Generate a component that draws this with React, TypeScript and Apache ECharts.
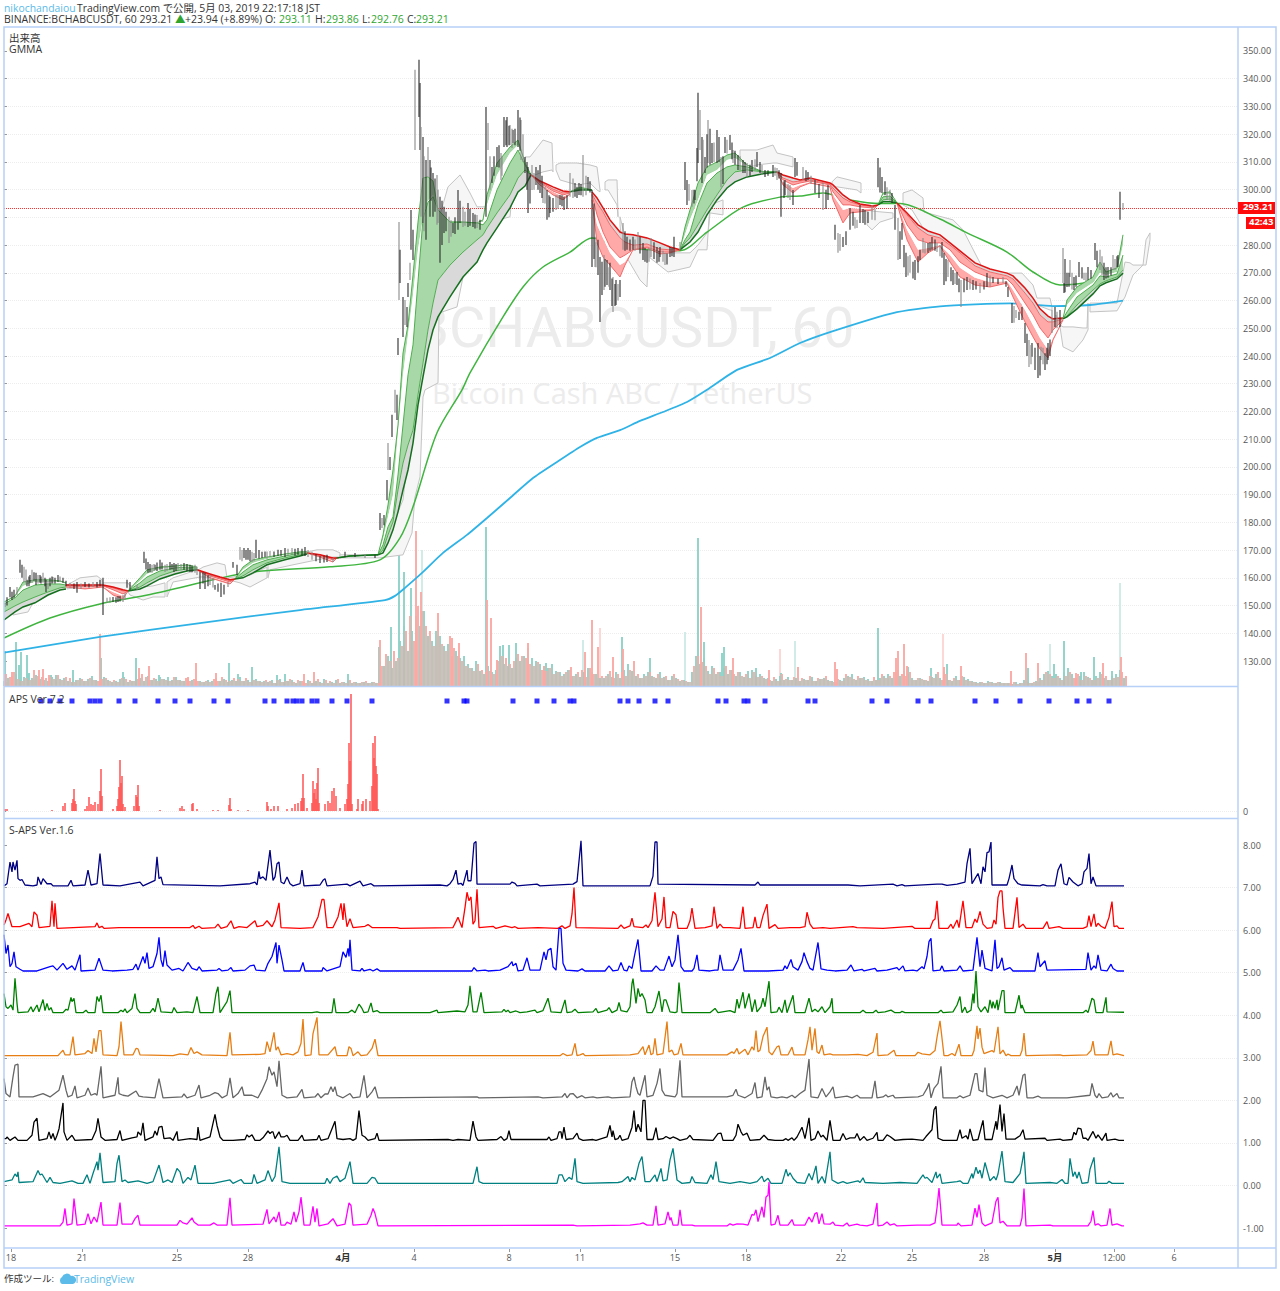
import { useEffect, useRef } from "react";
import * as echarts from "echarts";

type Row = number[];

const FONT = '"Open Sans", "Noto Sans CJK JP", sans-serif';
const BORDER = "#b7d0f7";

echarts.graphic.registerShape(
  "tvCloud",
  echarts.graphic.extendPath("M4 11a4 4 0 0 1 0-7 5 5 0 0 1 9-1 4 4 0 0 1 2 8z", {})
);

// x on every pane is the hourly bar index, labels sit on these bars
const timeTicks: [number, string][] = [
  [7, "18"], [78, "21"], [173, "25"], [244, "28"], [339, "4月"], [410, "4"], [505, "8"], [576, "11"],
  [671, "15"], [742, "18"], [837, "22"], [908, "25"], [980, "28"], [1051, "5月"], [1110, "12:00"], [1170, "6"],
];
const lastPrice = 293.21;

// bar, low, high
const candles: Row[] = [
  [1,149.5,151],[6,153,156.7],[10,152.8,155.7],[13,153.8,156.7],[16,161.8,166.5],[18,160,164.7],[20,158.5,164],[23,157,159.3],
  [26,158.2,161],[28,158.2,162.9],[32,157.4,161.8],[36,158.2,161],[39,158.2,161.8],[42,154.9,159.3],[46,157,160],[49,158.2,160.3],
  [54,158.5,161],[59,158.2,160],[66,156.4,158.2],[73,154.6,158.5],[81,156.7,158.5],[89,156.7,158.5],[96,157,159.3],[99,146.6,160],
  [103,151,152.8],[109,151.3,153.1],[114,151.3,153.5],[119,151.3,153.8],[123,156.4,159.3],[126,155.7,158.5],[133,155.7,157.4],
  [140,165.4,169.4],[144,161.8,165.7],[148,161.8,164.7],[151,162.9,164.7],[156,162.9,166.5],[161,162.1,164.7],[166,162.9,165.7],
  [170,162.1,165.4],[174,162.9,165.4],[180,162.9,165.4],[186,162.1,164.7],[191,161.8,164.7],[196,156,162.1],[201,156,161.8],
  [206,157.4,161],[211,155.7,157.4],[217,153.1,158.2],[224,156.7,158.5],[229,163.6,165.7],[233,161,164.7],[236,166.5,171.1],
  [240,167.2,170.8],[244,166.5,170.8],[248,165.7,169.4],[252,167.2,173.7],[258,167.2,169.4],[266,167.5,169.7],[274,167.9,170.1],
  [281,167.5,170.8],[288,168.3,170.8],[294,168.3,170.8],[301,167.9,171.1],[308,166.5,169.4],[316,165.4,167.9],[323,165.7,168.3],
  [329,165.7,167.2],[341,167.5,169.4],[351,167.5,169],[361,167.2,168.6],[371,167.2,168.3],
  [376,177.3,183.4],[378,178,181.6],[380,179,182.7],[383,188,195.3],[384,198.9,208.6],[386,198.9,203.6],[388,210.8,218.8],
  [391,219.5,227.8],[393,216.9,226],[394,240.4,246.5],[395,260.2,288.3],[396,266.3,278.3],[399,246.9,261.3],[401,251.2,260.2],
  [403,250.5,257.7],[404,261.3,266.3],[406,267.4,273.6],[407,278.3,292.7],[409,274.6,285.5],[411,314.3,343.2],[415,326.2,346.8],
  [416,314.3,338.5],[417,290.2,322.6],[419,288,319],[422,281.9,310.7],[424,304.6,315.4],[426,290.2,310.7],[429,290.2,306],
  [433,287.3,305.3],[436,273.6,297.4],[440,284.4,293.8],[445,280.8,290.2],[449,284.4,288],[454,285.5,299.9],[459,286.5,293.8],
  [464,286.5,295.2],[469,286.5,291.6],[473,286.2,290.9],[476,285.5,289.1],[482,290.2,329.8],[484,314.3,324],[488,302.4,308.2],
  [493,308.2,315.4],[497,303.5,313.2],[500,315.4,326.2],[503,315.4,326.2],[506,316.1,323.3],[509,316.8,321.5],[514,315.4,328.7],
  [517,310.7,325.1],[521,306,311.8],[524,291.6,308.2],[528,299.9,308.9],[532,301.7,308.2],[536,298.8,308.9],[539,295.2,302.4],
  [543,289.1,299.9],[546,291.6,297.4],[552,292.7,298.1],[556,294.5,298.1],[560,292.7,297.4],[566,297.4,306],[571,297.4,302.4],
  [575,298.1,302.4],[579,297.4,312.5],[584,299.9,304.6],[588,272.1,299.9],[591,272.1,283],[594,269.2,281.9],[596,252.3,275.7],
  [600,263.8,276.4],[603,265.6,274.6],[606,263.8,273.6],[609,255.9,268.5],[612,258.4,267.4],[616,261.3,267.4],[619,278.3,288],
  [623,278.3,283],[629,278.3,283],[634,278.3,284.7],[639,274.6,280.8],[643,273.6,278.3],[647,275.7,282.6],[653,273.6,279.3],
  [656,275.7,279.3],[661,272.8,277.2],[666,275.7,279.3],[670,275.7,283],[676,278.3,281.1],[681,299.9,310],[683,294.5,303.5],
  [688,293.8,299.9],[691,296.3,299.9],[694,309.6,334.9],[696,314.3,328.7],[698,302.4,319],[701,306,311.8],[704,309.6,325.1],
  [708,309.6,316.8],[713,309.6,321.5],[717,300.9,311.8],[721,313.2,319],[726,314.3,319.7],[729,309.6,314.3],[734,307.1,312.5],
  [739,306,310.7],[743,304.6,309.6],[748,306.4,310.7],[753,308.2,313.6],[758,305.3,308.9],[761,304.6,307.1],[769,304.6,308.9],
  [773,303.5,307.8],[777,290.2,306],[781,298.1,303.5],[786,296.3,301.7],[789,294.5,299.9],[791,304.6,311.4],[799,303.5,308.2],
  [804,303.5,306.4],[811,298.8,303.5],[819,292.7,302.4],[824,296.3,301.7],[831,281.9,287.3],[834,277.2,284.4],[839,279.3,282.9],
  [846,285.5,293.4],[853,286.2,289.1],[856,288,294.5],[861,287.3,292.7],[868,289.1,294.5],[874,300.9,311.4],[878,298.8,304.6],
  [883,296.3,300.9],[888,295.2,298.8],[891,285.5,294.5],[894,274.6,289.8],[898,281.9,288],[902,268.5,277.2],[906,270,276.4],
  [911,267.4,274.6],[916,274.6,278.3],[919,277.2,282.6],[924,277.2,280.8],[928,278.3,282.9],[933,277.5,280.8],[938,275.4,281.1],
  [940,265.6,277.2],[944,268.5,274.6],[949,265.6,271],[953,265.6,270.3],[957,257.7,267.4],[963,263.8,268.5],[969,263.8,267.4],
  [976,262.7,266.3],[983,264.9,269.9],[989,266.3,268.5],[999,266.3,268.5],[1004,261.3,264.9],[1008,251.9,259.1],[1012,253.7,256.6],
  [1018,253,257.7],[1021,244.7,251.9],[1025,236,245.8],[1028,239.7,244.7],[1034,232.1,244.7],[1037,238.6,243.3],[1041,235,241],
  [1044,238.6,244.7],[1048,248.3,256.6],[1051,250.5,257.7],[1056,250.5,256.6],[1059,266.3,279],[1060,262.7,266.3],[1063,264.9,270],
  [1066,268.5,274.6],[1070,263.8,268.5],[1075,268.5,273.9],[1080,267.4,270],[1084,267.4,272.1],[1091,274.6,280.8],[1096,271,278.3],
  [1100,267.4,273.6],[1104,268.2,272.1],[1109,271,276.4],[1114,272.1,276.4],[1116,289.1,299.2],[1119,292.7,295.2],
];
// the tighter bars between the ones above
const candlesBetween: Row[] = [
  [3,150,153],[8,152,155],[22,158,163],[25,157,160.5],[30,159,162],[34,158,161],[37,158,160.5],[41,157,160],[44,156,159],[48,158,160.5],[51,158,160],[56,158.5,160.5],
  [62,157,159],[70,156,158],[77,156,158],[85,156.5,158],[93,156.5,158.5],[106,151,153],[112,151,153],[116,151.5,153.5],[121,152,154.5],
  [142,163,167],[146,162,165],[150,162.5,165],[153,162.5,165.5],[158,163,165.5],[163,162.5,165],[168,163,165],[172,162.5,165],[177,163,165],[183,162.5,165],[188,162,164.5],
  [193,161,164],[199,158,162],[204,157,161],[209,156.5,160],[214,155,158],[220,154,157.5],[238,166,170],[242,166.5,170],[246,166,170],[250,166,169],[255,167,170],
  [261,167.5,169.5],[263,167,169.5],[270,167.5,169.5],[277,168,170],[284,168,170.5],[291,168,170.5],[298,168,170.5],[304,167.5,170],[312,166,168.5],[320,165.5,168],
  [420,285,312],[427,296,308],[431,292,304],[434,288,300],[438,280,296],[442,285,292],[447,283,289],[451,284,290],[456,288,296],[461,287,292],[466,287,293],[471,286,291],
  [486,300,312],[490,305,312],[495,308,316],[498,305,312],[502,316,325],[505,316,323],[508,315,322],[511,316,322],[516,314,326],[519,310,320],[523,300,310],[526,295,306],
  [530,300,306],[534,300,307],[538,297,305],[541,295,301],[545,290,298],[549,292,297],[554,293,298],[558,294,298],[563,293,298],[569,297,304],[573,297,301],[577,298,302],
  [582,298,305],[586,299,303],[590,275,295],[592,272,281],[598,262,274],[601,265,275],[605,265,272],[608,258,268],[611,258,266],[614,260,266],[621,278,285],[626,278,282],
  [631,278,282],[636,277,283],[641,274,279],[645,274,279],[650,275,281],[655,274,278],[659,274,278],[663,273,277],[668,276,279],[685,296,302],[690,295,300],[693,303,315],
  [699,306,318],[703,308,320],[706,309,322],[710,310,317],[715,310,319],[719,302,312],[723,313,318],[728,311,317],[731,309,314],[736,307,312],[741,306,310],[746,305,309],
  [751,307,311],[756,306,310],[764,305,307],[771,305,308],[775,304,307],[780,297,303],[784,297,302],[793,305,310],[802,303,307],[807,302,305],[815,297,302],[822,293,300],
  [836,278,284],[842,280,285],[849,287,292],[851,286,290],[859,288,293],[864,288,292],[871,289,293],[876,299,308],[881,298,303],[886,296,300],[896,275,285],[900,272,280],
  [904,269,276],[909,268,274],[914,270,276],[921,277,281],[926,278,281],[931,278,282],[936,276,280],[942,267,275],[947,267,272],[951,266,270],[955,263,268],[960,263,268],
  [966,264,268],[972,264,267],[980,264,267],[986,265,269],[994,266,268],[1002,265,267],[1010,252,258],[1015,253,256],[1023,240,248],[1027,237,244],[1031,235,243],[1036,233,240],
  [1039,237,243],[1043,237,243],[1046,240,246],[1053,250,256],[1061,263,275],[1065,265,270],[1068,264,270],[1072,265,269],[1078,268,272],[1082,267,270],[1087,268,271],
  [1093,272,278],[1098,269,276],[1102,268,272],[1107,269,272],[1111,271,275],[1113,272,276],
];

const blueEma: Row[] = [
  [0,133],[96,138.7],[196,143.7],[296,148.4],[381,152],[391,153.5],[401,156.4],[418,161.8],[439,169],[463,175.5],[483,181.6],[506,188.8],[529,196],[553,201.8],
  [576,207.2],[593,210.5],[616,213.3],[636,216.6],[659,219.8],[683,223.4],[703,227.8],[733,235],[766,239.3],[796,244.7],[829,249],[889,255.5],[936,257.9],[1006,259],
  [1049,258],[1086,258.4],[1119,260],
];
const greenEma: Row[] = [
  [0,138.3],[46,145.5],[96,150.6],[146,154],[246,162],[326,164],[376,166.5],[396,174.4],[409,185.6],[433,212.3],[458,227.8],[466,233.9],[499,254.1],[519,264.9],
  [539,272.1],[566,277.5],[588,282.6],[619,279.3],[676,278],[703,284.7],[739,293.7],[776,297.3],[796,297.7],[819,298.8],[846,296.3],[876,295],
  [896,295],[936,289.4],[963,284.4],[1003,277.5],[1029,270.3],[1056,265.6],[1086,266.7],[1119,270],
];

// GMMA rows: bar, fast edge, inner, inner, long edge, slowest
const bullA: Row[] = [
  [0,151.3,151,150.6,147.7,144.8],[11,153.5,153.1,152.8,149.9,147.7],[19,158.5,157.1,155.6,151.3,149.5],[31,159.3,158.5,157.4,153.1,151],
  [44,159.3,158.5,157.8,154.9,153.8],[56,158.9,158.5,157.8,156.4,155.6],[62,158.2,157.8,157.4,156.7,156],
];
const bearA: Row[] = [
  [62,156.7,157.1,157.1,157.4,157.4],[81,156,156.4,156.7,157.1,157.4],[99,156.7,156.7,157.1,157.1,157.4],
  [109,153.8,154.9,155.7,156.4,156.7],[119,152.4,153.5,154.2,155.3,155.7],[124,155.3,155.3,155.3,155.3,155.3],
];
const bullB: Row[] = [
  [124,155.3,155.3,155.3,155.3,155.3],[136,160,158.9,158.2,156.7,156],[143,162.9,161.4,160.3,158.2,157.1],[156,163.9,163.2,162.5,160.7,159.6],
  [171,164.3,163.9,163.6,162.5,161.4],[183,164.7,164.3,163.9,163.2,162.5],[193,163.9,163.9,163.6,163.2,162.9],
];
const bearB: Row[] = [
  [193,162.9,162.9,162.9,162.9,162.9],[206,160,160.3,160.7,161,161.4],[216,158.9,159.3,159.6,160,160.3],[226,157.8,158.2,158.5,158.9,159.3],
  [231,159.6,159.6,159.6,159.6,159.6],
];
const bullC: Row[] = [
  [231,159.6,159.6,159.6,159.6,159.6],[239,163.9,162.9,162.1,160.7,160],[249,166.5,165.4,164.7,162.9,161.8],[263,167.5,166.8,166.5,165.4,164.7],
  [281,168.6,168.3,167.9,167.2,166.5],[296,169.4,169,169,168.3,167.9],[303,169.4,169.4,169,169,168.6],
];
const bearC: Row[] = [
  [303,169,169,169,169,169],[316,167.5,167.9,167.9,168.3,168.3],[329,165.7,166.1,166.5,166.8,167.2],[333,167.2,167.2,167.2,167.2,167.2],
];
const bullD: Row[] = [
  [333,167.2,167.2,167.2,167.2,167.2],[346,167.9,167.9,167.9,167.9,167.9],[374,168.3,168.3,168.3,168.3,168.3],
  [379,175.5,173.7,171.9,170.1,169],[384,186.3,182,178.4,175.5,172.6],[389,198.9,189.9,182,180.2,177.3],[394,215.1,212.6,197.1,191.7,183.8],
  [399,241.1,233.2,215.1,201.4,191.7],[404,251.2,247.6,233.2,207.9,198.9],[409,269.2,262,244,213.3,208.6],[414,288.3,278.3,267,226,222.4],
  [419,304.2,290,289.5,237.5,232.5],[424,304.6,296,295.5,249.4,242.2],[429,303.1,298,297.5,259.1,249.4],[434,292.7,292.7,292.7,267.4,254.1],
  [446,288.3,288.3,288.3,272.8,261.3],[459,288.3,288.3,288.3,277.5,268.5],[473,288,288.3,288,281.9,273.9],[479,289.1,288.3,287.3,283.7,278.3],
  [483,298.1,294.5,289.1,286.2,280.8],[493,309.6,305.3,299.9,291.6,286.2],[506,315.4,313.2,309.6,298.1,293.4],[514,317.9,316.1,314.3,304.2,299.2],
  [521,309.6,309.6,308.9,307.1,301.3],[527,305.3,305.3,305.3,305.3,305.3],
];
const bearD: Row[] = [
  [527,305.3,305.3,305.3,305.3,305.3],[536,301.7,302,302.4,302.8,303.1],[549,298.1,299.2,299.5,300.2,301],[559,296.3,297.4,298.1,298.8,299.5],
  [566,298.4,298.8,298.8,299.2,299.2],
];
const bullE: Row[] = [
  [566,299.2,299.2,299.2,299.2,299.2],[576,300.9,300.7,300.5,300.2,299.9],[588,299.9,299.9,299.9,299.9,299.9],
];
const bearE: Row[] = [
  [588,296.3,297.4,298.1,298.4,299.2],[593,280.8,287.3,290.9,295.2,297],[599,275.7,282.6,284.7,292,293.4],[606,272.8,277.2,279.3,287.3,289.1],
  [616,268.5,272.8,275.4,282.6,284.7],[621,272.8,273.9,276.4,281.1,284],[629,278.3,278.3,278.3,280,283.7],[643,279,279,279.3,280.4,282.6],
  [656,276.8,277.2,277.5,278.6,280.8],[666,277.2,277.2,277.5,278.3,279.3],[676,278.3,278.3,278.3,278.3,278.3],
];
const bullF: Row[] = [
  [676,278.3,278.3,278.3,278.3,278.3],[681,286.5,283.7,281.9,280.8,279.7],[686,292.7,289.1,284.7,282.6,281.1],[694,302.4,296.3,294.5,287.3,284.7],
  [703,308.2,305.3,302.4,292.7,290.9],[713,310,307.1,306,298.1,296.3],[723,312.5,310.7,308.2,303.5,300.6],[731,313.2,311.4,308.9,306.4,302.8],
  [743,308.9,308.5,308.2,307.1,304.6],[759,306.4,306.4,306.4,306.4,305.7],[773,306.4,306.4,306.4,306.4,306.4],
];
const bearF: Row[] = [
  [773,306.4,306.4,306.4,306.4,306.4],[779,301.7,302.8,303.5,304.2,305.3],[789,298.8,300.6,301.7,302.8,304.2],[796,301,301.7,302.4,303.1,303.5],
  [806,302.4,302.8,303.1,303.5,304.2],[826,301,301.3,301.7,302,302.4],[829,296.3,298.1,299.2,300.6,301.7],[839,288,292.7,294.5,297,298.1],
  [846,291.6,293.4,294.5,295.6,296.3],[856,292,293,293.8,294.5,294.8],[869,292.7,293,293.4,293.8,294.1],[874,294.5,294.5,294.5,294.5,294.5],
];
const bullG: Row[] = [
  [874,294.5,294.5,294.5,294.5,294.5],[879,298.8,298.1,297.4,296.3,295.6],[886,299.2,298.4,297.7,296.6,295.6],[893,295.2,295.2,295.2,295.2,295.2],
];
const bearG: Row[] = [
  [893,295.2,295.2,295.2,295.2,295.2],[903,281.9,285.5,287.3,290.9,291.6],[914,273.9,278.3,281.9,286.2,287.3],[924,277.2,279,280.8,283.7,285.1],
  [936,279.7,280,280.8,282.6,283.7],[946,273.9,276.4,278.3,280,280.8],[956,268.5,271.8,273.9,277.2,277.9],[971,265.6,268.2,270.3,272.5,273.6],
  [986,264.9,266.7,268.2,270.3,271.4],[1003,266.3,267,267.8,268.9,269.9],[1009,261.3,263.8,265.6,267.8,268.9],[1021,252.3,256.6,259.1,262.7,264.5],
  [1029,246.9,251.2,254.8,259.1,260.9],[1036,242.5,246.5,250.1,254.8,257],[1044,239.3,242.2,246.5,252.3,254.4],[1049,245.8,246.5,249.4,252.3,253.4],
  [1059,253,253,253,253.4,253.7],
];
const bullH: Row[] = [
  [1059,253.4,253.4,253.4,253.4,253.4],[1063,260.2,258.4,255.9,254.4,254.1],[1073,264.9,262.7,261.3,258.4,257],[1089,268.5,266.4,265.6,263.8,262.4],
  [1096,273.9,270,268.9,266,265.3],[1102,270.3,269.2,268.5,267.1,266.4],[1113,271.8,270.3,269.6,268.5,267.8],[1119,283.7,280,276.4,271,269.9],
];

// Ichimoku cloud patches: bar, top, bottom
const cloudPatches: Row[][] = [
  [[9,150.2,146.6],[24,152,147.7],[29,152.8,151],[41,155.7,153.1]],
  [[63,157.4,156],[76,160,156.7],[93,160.7,157.4],[98,159.3,157.8]],
  [[99,158.2,156.4],[124,158.2,154.9],[126,157.1,153.8],[139,156.7,152],[149,157.1,153.1],[161,158.2,153.1]],
  [[163,158.5,153.1],[169,160,158.5],[196,163.2,160.3],[199,163.9,160.3],[213,165.4,160],[221,164.7,160],[223,160,160]],
  [[224,160,159.3],[236,160.7,158.2],[246,161,156.7],[263,163.9,160]],
  [[264,166.5,160],[266,167.2,162.9],[289,168.3,164.7],[313,170.1,166.5],[329,170.1,167.5],[336,169,167.5]],
  [[336,168.3,167.2],[376,168.3,167.2],[399,188.1,168.3],[408,216.9,176.2],[411,231.4,189.2],[416,245.8,196.4],[419,253,225.2],[421,253,227.8],
    [434,263.8,230.3],[435,263.8,255.5],[453,278.3,257.7],[459,281.9,268.5],[473,287.3,278.3]],
  [[436,290.9,287.3],[444,301,287.3],[456,305.3,287.3],[466,298.8,287.3],[473,293.8,287.3],[486,293.8,288.3],[506,308.9,290.2],[511,310.7,308.9]],
  [[521,311.8,304.6],[526,311.8,304.6],[539,317.9,306.4],[548,316.8,307.1],[549,307.1,306.4]],
  [[552,308.9,307.1],[556,309.6,303.5],[573,309.6,301.7],[586,308.9,302.4],[593,308.2,299.9],[596,299.9,299.2]],
  [[601,302.8,299.9],[604,303.5,299.9],[613,303.5,294.5],[614,291.6,290.2]],
  [[616,290.2,287.3],[618,287.3,280],[623,279.3,275.4],[636,278.3,267.4],[643,278.3,264.9],[644,278.3,273.6]],
  [[646,278.3,275.4],[664,277.2,270.3],[686,277.2,272.1],[694,280,278.3],[703,284.4,278.3],[704,284.4,284],[706,294.5,291.6],[719,296.3,290.9]],
  [[736,314.3,307.1],[753,314.3,308.9],[769,316.1,309.6],[773,313.2,309.6],[789,311.8,308.2]],
  [[828,302.8,301],[833,304.6,301],[853,302.8,299.9],[857,302.4,298.8]],
  [[863,292.7,287.3],[868,292.3,285.5],[876,292,288.3],[889,291.6,289.8]],
  [[899,298.8,294.5],[908,299.9,292.7],[919,297,286.2],[920,291.9,284.4],[949,289.1,276.4],[959,285.5,272.8],[976,273.6,266.7],[979,271,265.6],
    [1003,269.9,266.7],[1018,269.9,262],[1029,265.6,258.4],[1033,260.9,258.4],[1046,260.9,256.6],[1048,257.7,256.6]],
  [[1052,254.8,250.5],[1056,251.2,250.5],[1059,250.5,243.3],[1069,250.5,241.5],[1079,250.1,245.8],[1083,250.1,248.7],[1084,259.1,249.4]],
  [[1086,259.1,255.9],[1113,259.1,256.3],[1121,273.9,261.3],[1126,273.6,266.3],[1129,272.8,269.2],[1139,272.8,272.8],[1142,281.9,272.8],[1146,284.4,281.9]],
];

// volume, one reading every 4 bars; the up bars start on bar 0, the down bars on bar 2
const volumeUp = [
  5,8,10,12,6,9,12,8,11,7,6,5,9,6,7,8,5,4,6,8,5,7,10,6,5,
  9,6,4,5,7,9,4,5,6,8,5,10,6,7,9,7,5,6,9,6,5,8,6,7,5,
  4,6,5,8,5,7,4,6,5,9,5,6,4,7,5,5,4,6,3,7,4,5,6,3,5,
  4,6,3,5,4,7,3,4,6,3,4,5,3,4,3,4,3,4,3,
  25,20,30,18,25,45,60,35,55,70,60,75,50,45,55,50,40,42,30,35,
  28,30,22,18,25,15,12,20,14,16,40,22,20,18,28,25,30,38,28,25,22,20,18,22,15,14,12,16,10,12,9,14,18,14,12,8,
  8,12,9,14,8,16,22,15,10,8,12,14,10,8,14,9,6,10,8,5,6,4,
  14,30,22,28,15,20,12,14,18,12,16,10,14,9,15,16,10,12,8,
  8,5,7,10,6,9,6,8,5,7,6,9,5,7,8,6,5,4,6,8,10,12,6,8,9,7,5,6,8,10,
  12,8,14,10,15,12,8,6,8,6,5,9,12,8,14,6,5,10,6,9,7,5,4,4,3,5,4,3,4,3,
  3,2,4,3,6,4,3,5,8,12,15,10,12,8,14,18,12,8,10,14,9,6,10,14,8,6,10,12,16,8,
];
const volumeDown = [
  4,9,14,7,5,8,6,7,10,9,8,9,7,11,6,9,8,4,6,7,5,8,6,5,7,
  8,5,6,4,8,7,6,5,7,12,9,6,8,5,7,6,5,9,6,5,8,5,7,5,4,
  5,4,7,5,9,6,5,8,7,5,8,4,6,5,4,6,5,3,6,4,5,7,4,6,5,
  3,5,4,7,3,6,5,3,7,4,3,6,4,3,4,5,3,4,3,
  20,32,25,35,28,40,55,70,45,80,75,60,55,40,50,42,35,50,38,30,
  25,20,18,15,22,16,14,15,12,25,30,28,22,25,32,30,28,22,20,24,16,15,18,12,14,10,14,16,10,14,16,9,18,12,8,10,
  10,15,8,12,14,10,16,25,12,8,10,14,9,12,8,10,6,12,7,6,5,4,
  20,30,24,20,12,18,14,10,20,16,12,14,10,12,8,14,9,10,7,
  6,9,5,12,7,6,9,5,8,6,10,5,8,7,10,5,4,7,5,12,9,7,10,8,6,5,9,6,12,8,
  10,14,16,12,10,14,6,8,7,6,10,8,14,6,12,6,8,6,10,6,5,4,3,4,3,4,3,4,3,3,
  3,4,2,3,5,3,4,4,6,14,12,8,10,6,10,14,8,12,6,10,8,6,8,12,10,6,8,9,14,10,
];
const volumeUpSpikes: Row[] = [
  [1,35],[12,44],[15,21],[17,34],[23,31],[25,13],[47,11],[52,11],[69,16],[97,28],[119,14],[132,28],[155,11],[164,9],[225,23],[234,12],[248,19],
  [273,11],[281,12],[344,12],[375,39],[387,59],[395,136],[400,114],[407,98],[482,159],[499,41],[505,41],[512,43],[542,23],
  [618,49],[646,28],[694,148],[700,44],[718,33],[720,39],[752,18],[777,13],[874,58],[904,19],[927,18],[943,22],
  [1024,18],[1050,22],[1060,45],[1077,14],[1090,29],[1108,15],
];
const volumeDownSpikes: Row[] = [
  [2,12],[8,14],[30,16],[35,16],[39,17],[45,11],[96,52],[135,18],[145,20],[184,9],[192,23],[212,13],[300,12],[310,14],
  [376,46],[412,155],[417,94],[434,73],[448,48],[455,43],[483,86],[487,68],[493,26],[524,43],[540,20],[567,19],[581,34],
  [588,66],[594,39],[609,29],[619,37],[697,79],[729,28],[765,16],[794,19],[831,24],[833,17],[892,28],[894,35],[900,42],[903,20],
  [940,19],[957,20],[1007,15],[1022,33],[1034,23],[1072,13],[1099,23],[1117,29],
];
const volumeFaintUp: Row[] = [[418,136],[579,46],[681,54],[791,45],[1046,42],[1116,103]];
const volumeFaintDown: Row[] = [[596,58],[776,37],[939,52]];

// APS histogram and its markers
const apsBars: Row[] = [
  [1,2],[3,2],[48,1],[59,5],[61,8],[68,8],[69,12],[70,22],[71,10],[72,7],[81,2],[83,5],[85,14],[87,7],[89,6],[91,9],[94,7],[96,20],[97,42],[98,15],
  [109,2],[113,5],[114,12],[115,24],[116,51],[117,28],[118,35],[119,7],[121,4],[130,5],[132,16],[133,14],[134,26],[135,5],[156,1],[176,3],[178,5],[180,2],
  [188,7],[189,8],[193,2],[209,1],[214,1],[225,6],[226,13],[227,2],[234,1],[244,1],[263,9],[264,5],[267,2],[270,5],[274,5],[283,2],[288,3],[291,7],
  [294,8],[297,10],[298,13],[299,37],[300,13],[303,3],[308,8],[309,30],[310,18],[311,22],[312,12],[313,28],[314,43],[315,8],[321,7],[324,10],[326,8],
  [328,20],[330,23],[332,15],[336,3],[341,7],[343,12],[344,27],[345,68],[346,50],[347,117],[348,7],[353,2],[354,12],[358,7],[359,10],[362,12],
  [366,10],[368,25],[369,68],[370,53],[371,75],[372,45],[373,37],[374,2],
];
const apsSignals = [
  37,46,56,68,86,91,96,115,131,154,171,186,210,224,261,270,283,289,293,298,308,313,328,343,368,443,460,463,509,533,550,566,570,616,624,635,651,664,
  714,722,740,744,761,804,811,868,883,914,927,971,992,1016,1045,1073,1085,1105,
];
const apsMarkerLevel = 110;

// S-APS lines: height above each line's own base
const sapsBases = [7.04, 6.04, 5.04, 4.06, 3.05, 2.06, 1.06, 0.05, -0.95];
const sapsColors = ["#000080", "#ff0000", "#0000ff", "#008000", "#e67e14", "#666666", "#000000", "#008080", "#ff00ff"];
const sapsNavy: Row[] = [
  [0,0],[3,.05],[6,.56],[8,.33],[9,.56],[11,.37],[13,.6],[14,.17],[16,.13],[18,.15],[21,.02],[29,0],[33,.02],[34,.21],[37,.03],[39,.17],[43,.05],[47,.05],[49,0],[64,0],[67,.13],[69,0],[81,.02],[84,.37],[87,.02],[93,.05],[96,.76],[99,.02],[116,0],[136,.09],[139,0],[151,.13],[153,.68],[155,.17],[157,.21],[159,.03],[216,0],[246,.05],[251,.09],[253,.02],[255,.34],[256,.17],[259,.21],[262,.13],[266,.84],[269,.13],[271,.21],[273,.52],[275,.56],[277,.09],[280,.05],[283,.21],[286,.05],[289,0],[296,.05],[298,.37],[300,0],[316,.02],[319,.13],[321,.17],[323,0],[343,.04],[346,0],[356,.11],[359,0],[367,.05],[370,0],
  [436,.02],[443,0],[446,.05],[449,.15],[452,.37],[454,.04],[457,.06],[459,.01],[463,.37],[464,.12],[467,.12],[470,1.0],[472,1.04],[473,.04],[506,.04],[508,.09],[511,.06],[513,0],[533,.04],[536,0],[569,.04],[573,.1],[577,1.06],[579,0],[646,0],[649,.23],[651,1.03],[653,1.03],[654,.04],[751,.02],[754,.09],[756,.02],[844,.02],[856,0],
  [889,.04],[893,0],[898,.03],[901,0],[933,.04],[938,.04],[943,.01],[953,.04],[961,.09],[963,.52],[966,.88],[968,.05],[971,.17],[974,.29],[977,.05],[979,.45],[981,.33],[983,.78],[985,.8],[987,1.03],[988,.02],[1003,.02],[1005,.17],[1008,.49],[1010,.17],[1014,.05],[1018,.02],[1036,0],[1039,.03],[1043,0],[1051,0],[1054,.37],[1057,.52],[1060,.05],[1063,.02],[1065,.2],[1069,.09],[1074,0],[1078,.05],[1080,.33],[1083,.41],[1085,.76],[1087,.05],[1089,.21],[1092,0],[1120,0],
];
const sapsRed: Row[] = [
  [0,.08],[2,.2],[4,.35],[8,.04],[16,.04],[25,.12],[28,.04],[30,.39],[33,.31],[35,.02],[46,.05],[48,.65],[50,.04],[51,.59],[53,0],[91,.04],[93,.13],[95,.02],[98,.05],[100,0],[115,.02],[186,.02],[189,.07],[191,0],[195,.05],[198,0],[211,.02],[214,.1],[217,0],[223,.04],[227,.18],[230,0],[235,.04],[243,.02],[251,.18],[253,.04],[259,.07],[263,.18],[268,.04],[271,.2],[275,.6],[277,.02],[296,0],[309,.02],[314,.27],[318,.68],[320,.68],[323,.02],[329,.02],[334,.27],[337,.59],[339,.2],[340,.59],[343,.04],[346,.23],[349,.02],[361,.05],[364,.09],[368,.02],[393,.02],[396,0],
  [449,.02],[454,.26],[458,.02],[461,.49],[463,.85],[465,.65],[467,.74],[469,.1],[471,.18],[473,.92],[475,.02],[489,.05],[492,0],[501,.06],[508,.02],[511,.04],[514,0],[534,.02],[554,0],[558,.06],[561,0],[566,.06],[568,.34],[570,.96],[572,.02],[614,0],[617,.08],[620,0],[626,.06],[628,.24],[630,.04],[639,.02],[642,.08],[644,.02],[648,.18],[651,.85],[654,.04],[658,.22],[660,.74],[662,.02],[666,.02],[669,.4],[672,.32],[674,0],[683,0],[686,.18],[688,.48],[691,0],[701,.02],[708,.06],[710,.51],[713,0],[716,.1],[719,.02],[726,.02],[736,0],[739,.51],[741,0],[749,.02],[751,.27],[753,.02],[756,.02],[759,.3],[763,.57],[765,0],[771,.09],[774,0],[786,.02],[796,.02],[801,.04],[803,.38],[806,.1],[809,0],[819,.02],[826,0],[849,.04],[853,.02],
  [879,0],[908,.05],[911,0],[926,0],[929,.18],[931,.22],[933,.65],[935,0],[944,0],[947,.1],[949,0],[953,.2],[955,.02],[959,.65],[962,.02],[968,.02],[971,.22],[973,.14],[976,.4],[979,.1],[983,0],[988,.02],[990,.2],[992,.1],[994,.73],[996,.88],[998,.88],[999,.49],[1001,0],[1009,0],[1013,.73],[1015,.02],[1019,.1],[1022,0],[1039,0],[1043,.16],[1045,0],[1055,.04],[1059,0],[1079,0],[1083,.04],[1085,.3],[1087,.04],[1090,.34],[1092,.04],[1094,.12],[1097,.05],[1101,0],[1105,.26],[1108,.63],[1110,.04],[1113,.06],[1115,0],[1120,0],
];
const sapsBlue: Row[] = [
  [0,.85],[2,.41],[4,.61],[6,.1],[8,.18],[10,.45],[12,.1],[16,.04],[19,0],[33,0],[46,.1],[49,.12],[53,.02],[59,.18],[63,.04],[68,.12],[71,.02],[76,.38],[77,0],[91,.02],[95,.3],[99,.02],[108,0],[123,.02],[129,.04],[132,.16],[134,.02],[139,.34],[141,.18],[143,.43],[145,.06],[149,.1],[153,.41],[155,.79],[157,.26],[159,.1],[161,.48],[163,.14],[168,.02],[175,.06],[179,0],[184,.2],[188,.06],[193,.02],[195,.1],[198,0],[213,.02],[215,.06],[218,0],[224,.02],[227,.08],[229,0],[241,.02],[246,.12],[250,.14],[252,.02],[261,0],[264,.18],[268,.34],[272,.67],[273,.18],[275,.61],[278,.26],[280,0],[296,0],[299,.2],[301,0],[318,0],[319,.08],[323,0],[336,.1],[339,.45],[342,.32],[344,.53],[345,.34],[346,.73],[348,.02],[356,0],[358,.06],[360,0],[366,.04],[369,0],[373,.05],[376,0],
  [468,0],[470,.08],[473,0],[481,.02],[484,0],[496,.02],[504,.1],[508,.22],[509,.12],[512,.18],[514,0],[519,.02],[523,.31],[526,.02],[536,.02],[540,.45],[542,.26],[544,.49],[547,.53],[549,.1],[552,.02],[555,1.0],[557,1.0],[559,.18],[562,.02],[574,0],[578,.05],[581,0],[601,0],[605,.12],[609,0],[614,.02],[617,.2],[620,.02],[623,0],[625,.12],[628,.06],[631,.42],[634,.74],[637,0],[648,0],[652,.12],[656,.02],[660,.02],[663,.22],[665,.35],[668,.1],[671,.26],[674,.85],[677,.1],[680,0],[688,0],[690,.06],[693,.38],[695,.02],[706,0],[711,.02],[714,.02],[716,.38],[719,.02],[729,.02],[734,.26],[737,.53],[740,0],[764,0],[779,.02],[781,.12],[783,.05],[787,.27],[789,.1],[794,.02],[798,.22],[800,.43],[803,.22],[806,.06],[809,.02],[814,.67],[817,.05],[823,.02],[831,0],[843,.02],[847,.14],[850,0],
  [858,.04],[860,0],[871,.06],[873,0],[883,.02],[893,.08],[895,.02],[899,.12],[901,0],[909,.02],[913,0],[918,.1],[920,.05],[923,.34],[925,.69],[927,.77],[929,0],[936,.02],[938,.12],[940,0],[953,.02],[956,.12],[959,0],[969,.02],[973,.79],[976,.1],[978,.49],[981,.06],[988,0],[991,.73],[993,.06],[995,.1],[998,.31],[1000,.02],[1006,.08],[1009,0],[1031,0],[1034,.43],[1036,.1],[1041,.24],[1043,.02],[1082,.04],[1084,.43],[1087,.02],[1090,.12],[1092,.06],[1094,.38],[1097,.02],[1103,0],[1107,.16],[1109,.06],[1113,0],[1120,0],
];
const sapsGreen: Row[] = [
  [0,.45],[2,.14],[4,.1],[7,.18],[9,.06],[11,.81],[13,.22],[14,0],[24,.02],[27,.14],[29,.02],[33,.18],[35,.02],[39,.31],[41,.05],[43,.22],[45,.06],[47,.12],[49,0],[59,0],[62,.08],[64,.06],[67,.36],[68,.26],[70,.34],[72,0],[79,0],[82,.06],[84,0],[91,0],[93,.38],[95,.26],[97,.41],[99,0],[114,0],[117,.06],[119,.02],[121,.09],[123,0],[128,.1],[131,.45],[133,.1],[136,0],[146,0],[149,.1],[151,.02],[154,.34],[157,.02],[168,0],[170,.12],[173,0],[183,.02],[189,0],[193,.38],[196,0],[209,0],[212,.45],[214,.61],[216,0],[223,.26],[226,.52],[228,0],[308,0],[313,.02],[316,0],[328,0],[330,.34],[332,0],[344,0],[348,.06],[351,0],[355,.2],[358,.1],[360,0],[364,.02],[367,.23],[369,.02],[373,.05],[376,0],
  [426,0],[433,.06],[434,0],[453,.04],[461,.02],[464,.18],[466,.63],[469,.02],[473,.02],[477,.48],[480,0],[498,.02],[500,.08],[502,.02],[504,.06],[506,0],[512,.04],[516,0],[523,.02],[531,.06],[533,0],[539,.05],[544,.34],[547,.02],[557,0],[561,.3],[563,0],[568,.02],[571,.08],[574,0],[589,.02],[592,.1],[594,0],[603,.06],[605,.12],[608,0],[613,.06],[615,.24],[617,.05],[623,.02],[626,.14],[628,.69],[629,.8],[632,.22],[634,.57],[636,.38],[638,.45],[641,.3],[643,0],[648,0],[651,.14],[655,.51],[658,.02],[660,.3],[662,.3],[666,.02],[671,0],[673,.02],[675,.71],[678,0],[706,0],[711,.1],[714,0],[726,.05],[731,0],[733,.32],[735,.1],[739,.48],[741,.1],[745,.45],[748,.02],[751,.31],[753,.02],[757,.14],[759,.34],[761,.14],[765,.74],[767,0],[773,.02],[775,.13],[778,0],[781,.3],[783,0],[789,.41],[791,0],[801,0],[805,.34],[808,.02],[811,.08],[814,.02],[818,.14],[821,0],[826,.14],[828,.34],[829,0],[856,0],
  [859,.06],[862,0],[869,0],[872,.06],[874,0],[881,.02],[887,.06],[891,0],[896,0],[898,.03],[901,0],[934,0],[937,.06],[939,0],[949,.02],[953,.18],[956,.38],[958,0],[961,.13],[963,0],[967,.06],[969,.45],[970,.22],[972,.98],[974,.14],[977,.02],[981,.14],[984,0],[986,.3],[988,.1],[989,.26],[991,.1],[993,.3],[994,.06],[998,.52],[1000,.52],[1001,0],[1011,0],[1015,.41],[1017,.1],[1018,.18],[1021,0],[1079,0],[1082,.06],[1084,0],[1088,.34],[1090,.3],[1092,0],[1099,0],[1102,.36],[1103,.02],[1120,.01],
];
const sapsOrange: Row[] = [
  [0,0],[54,0],[59,.13],[61,.02],[66,.02],[69,.45],[71,.02],[81,.05],[84,.12],[88,.05],[90,.41],[92,.09],[95,.59],[97,.59],[99,.02],[113,0],[115,.21],[117,.8],[120,.02],[129,.02],[132,.17],[134,.16],[136,.02],[169,0],[176,.04],[184,.02],[187,.19],[190,.05],[193,.09],[198,.02],[223,0],[226,.55],[228,.02],[256,.03],[261,.05],[263,.33],[266,.09],[270,.55],[272,.13],[274,.21],[277,.02],[283,.05],[289,.02],[294,.09],[297,.29],[299,.86],[301,0],[307,.02],[309,.52],[313,.9],[315,.02],[324,.02],[331,.21],[333,0],[343,0],[345,.21],[347,.17],[349,0],[354,.09],[357,0],[363,.02],[368,.17],[371,.39],[374,0],
  [556,0],[559,.05],[563,0],[568,.02],[571,.29],[573,0],[576,.02],[579,.05],[581,0],[626,.02],[634,.05],[639,.21],[641,.02],[645,.25],[647,.02],[649,.05],[651,.41],[653,.02],[659,.05],[663,.8],[665,.09],[668,.13],[670,.02],[674,.04],[677,.29],[679,.02],[723,.02],[728,.09],[730,.05],[733,.17],[735,.04],[741,.15],[744,.02],[748,.21],[750,.13],[752,.59],[754,.09],[756,.13],[759,.45],[763,.67],[765,.09],[768,.02],[773,.21],[775,.23],[777,.02],[784,.02],[788,.2],[790,.02],[801,.02],[804,.37],[806,.68],[808,.13],[811,.64],[813,.09],[815,.05],[818,.25],[820,.02],[826,.04],[829,.02],[843,.02],[854,.03],
  [863,0],[869,.08],[873,.53],[874,0],[884,.02],[890,.13],[892,0],[911,0],[914,.08],[918,.04],[926,.02],[931,.12],[933,.43],[936,.82],[940,0],[944,0],[948,.05],[951,0],[955,.27],[957,0],[968,0],[970,.12],[973,.7],[974,.39],[976,.65],[978,.2],[980,.05],[988,.12],[990,.08],[994,.68],[996,.04],[999,.13],[1002,0],[1004,.04],[1007,0],[1016,0],[1018,.12],[1020,.53],[1022,0],[1056,.02],[1059,0],[1083,.02],[1087,.12],[1089,.34],[1091,.02],[1104,.02],[1107,.35],[1109,.02],[1113,.04],[1120,0],
];
const sapsGrey: Row[] = [
  [0,.45],[2,.1],[6,.02],[9,.49],[11,.77],[14,.79],[15,.02],[29,.02],[39,.1],[46,.02],[55,.18],[59,.53],[62,.18],[64,.02],[68,.06],[71,.28],[73,0],[81,.06],[84,.23],[87,.06],[91,.1],[93,.06],[97,.74],[99,0],[111,.06],[114,.48],[115,.1],[119,.06],[124,.04],[132,.16],[135,.04],[139,.02],[151,0],[155,.45],[159,0],[178,.02],[180,.09],[183,0],[191,.06],[195,.3],[197,0],[206,.06],[211,.12],[214,.1],[218,0],[223,.06],[226,.47],[229,0],[234,.1],[238,.26],[240,.06],[244,.06],[248,.06],[254,0],[258,.18],[263,.45],[265,.73],[268,.53],[270,.61],[273,.26],[275,.87],[278,.06],[283,0],[293,.02],[298,.2],[300,0],[311,.02],[314,.1],[317,0],[321,.09],[324,.09],[327,.26],[329,.14],[331,.26],[333,.06],[339,0],[346,.1],[349,0],[356,.02],[360,.53],[363,0],[368,.14],[371,.26],[374,0],
  [473,.02],[475,0],[534,.02],[539,0],[558,.02],[561,.1],[563,0],[566,.09],[569,.1],[573,0],[578,.05],[581,0],[589,.02],[593,0],[604,.02],[608,0],[626,.02],[628,.38],[630,.49],[632,.26],[634,.1],[636,.06],[641,.53],[643,.02],[649,.06],[653,.34],[656,.69],[658,.18],[661,.06],[671,.02],[673,.1],[676,.88],[678,.02],[723,.02],[729,.06],[732,.2],[734,.06],[741,0],[748,.1],[751,.36],[753,0],[758,.02],[761,.49],[763,.18],[765,.26],[767,.02],[773,0],[778,.02],[783,0],[788,.06],[791,0],[796,.1],[801,.18],[805,.91],[807,.02],[814,0],[818,.22],[822,.02],[826,.14],[829,.26],[831,0],[843,.04],[848,0],[853,.06],
  [856,0],[868,0],[871,.4],[873,0],[879,.02],[882,.07],[884,.02],[889,.06],[891,0],[914,.02],[919,.06],[923,.22],[925,.34],[927,0],[930,.22],[934,.34],[937,.74],[939,0],[953,0],[956,.05],[959,0],[966,.06],[971,.57],[973,.57],[975,.18],[979,.14],[981,.71],[983,.06],[989,0],[998,.06],[1003,0],[1009,.06],[1013,.28],[1015,.06],[1019,.53],[1021,.56],[1023,0],[1029,0],[1034,.04],[1037,0],[1063,0],[1086,.06],[1088,.34],[1091,.06],[1093,0],[1095,.1],[1098,0],[1104,.02],[1107,.12],[1109,.02],[1113,.1],[1115,0],[1120,0],
];
const sapsBlack: Row[] = [
  [0,.04],[2,.04],[3,.08],[6,0],[11,.08],[14,0],[23,0],[28,.12],[30,.43],[33,.52],[35,0],[43,.04],[45,.2],[47,.04],[49,.16],[51,0],[53,.12],[55,.27],[59,.88],[60,.2],[63,0],[68,.12],[71,0],[88,.02],[92,.23],[94,.52],[97,.08],[101,0],[113,.02],[116,.23],[118,0],[128,.06],[133,.08],[134,.2],[137,.12],[139,.41],[141,0],[149,.08],[151,.22],[153,.12],[155,.31],[158,.33],[160,.04],[166,.06],[169,0],[173,.21],[174,0],[186,.04],[193,.02],[194,.31],[196,0],[206,.08],[211,.61],[213,.35],[216,.08],[219,0],[229,0],[241,.02],[243,.13],[245,.08],[248,.13],[251,0],[256,0],[259,.06],[264,.22],[266,.16],[268,.2],[269,.2],[271,.04],[275,.2],[277,.08],[280,.08],[283,.12],[286,0],[294,0],[298,.12],[300,0],[313,.02],[315,.12],[317,0],[324,.04],[331,.45],[333,.04],[339,.02],[346,.04],[349,0],[352,.04],[355,.7],[358,.12],[361,.08],[364,0],[371,.04],[373,.17],[375,0],
  [444,.02],[449,0],[454,.02],[466,0],[469,.45],[472,.08],[474,0],[493,.02],[497,.09],[500,0],[503,.04],[505,.23],[507,.02],[543,.02],[545,.08],[547,0],[553,.04],[555,.2],[557,.2],[558,.04],[560,.31],[562,.02],[569,.04],[573,.17],[575,.04],[579,0],[589,.02],[592,0],[603,.08],[606,.35],[608,.08],[609,.23],[611,.02],[614,.04],[616,.12],[618,0],[624,.04],[628,.31],[630,.7],[632,.2],[634,.38],[637,.2],[639,.94],[641,.94],[643,.02],[649,.02],[652,.3],[654,.02],[659,.04],[662,.09],[666,.04],[669,.08],[673,.04],[676,0],[683,.04],[686,.12],[689,.02],[709,0],[714,.16],[717,.17],[719,0],[729,0],[732,.12],[734,.38],[737,.2],[739,.12],[743,.17],[746,0],[756,.02],[760,.12],[764,.02],[771,0],[779,0],[782,.04],[784,0],[788,.06],[790,0],[793,.08],[798,.31],[801,.04],[805,.53],[807,0],[811,.04],[814,.22],[817,.08],[819,.12],[823,0],[826,.47],[829,0],[836,0],[839,.16],[842,.02],[846,.06],[851,.06],
  [853,.16],[856,0],[860,.09],[863,0],[869,.05],[873,.19],[874,0],[879,0],[883,.13],[886,.09],[891,0],[899,.02],[908,.03],[919,0],[922,.09],[928,.25],[930,.72],[932,.8],[934,.05],[939,0],[953,0],[956,.25],[958,.05],[962,.11],[964,.03],[966,.27],[969,0],[974,.02],[977,.29],[979,.47],[981,.02],[988,.02],[992,.45],[993,.25],[996,.84],[998,.21],[1000,.63],[1002,.03],[1011,.03],[1016,.11],[1019,.25],[1021,.03],[1041,.05],[1043,0],[1056,.03],[1059,0],[1068,.02],[1070,.19],[1072,.13],[1074,.29],[1077,.27],[1079,.05],[1082,.05],[1084,0],[1089,.21],[1092,.05],[1094,.13],[1098,0],[1102,.17],[1103,0],[1111,.03],[1115,0],[1120,0],
];
const sapsTeal: Row[] = [
  [0,.04],[8,.08],[11,.22],[13,.16],[14,.27],[15,.02],[29,.04],[34,.3],[36,.2],[38,.22],[43,.02],[46,.14],[49,.02],[56,0],[68,.06],[74,0],[79,0],[83,.2],[86,0],[89,.23],[93,.51],[94,.31],[96,.72],[99,.02],[111,.04],[113,.47],[115,.66],[118,.04],[121,.08],[124,.02],[134,.06],[143,0],[149,.04],[155,.43],[159,.02],[164,.08],[168,.02],[173,.35],[176,.27],[179,0],[184,.14],[187,.08],[191,.43],[194,0],[209,0],[226,.08],[229,0],[237,.09],[240,0],[248,0],[250,.21],[253,0],[261,.08],[264,.3],[268,.04],[271,.16],[275,.86],[278,.04],[286,0],[321,0],[323,.12],[326,0],[329,.12],[333,.17],[336,.04],[341,.12],[346,.51],[349,0],[363,0],[368,.14],[371,.12],[374,0],
  [469,0],[473,.39],[475,.04],[479,0],[553,0],[555,.2],[558,.2],[561,.04],[565,.14],[568,.09],[571,.59],[573,.04],[579,0],[614,.02],[618,.04],[624,.16],[626,.04],[628,.14],[631,.08],[635,.47],[638,.63],[641,.04],[646,.04],[651,.2],[653,.04],[657,.35],[659,.06],[663,.08],[666,.55],[669,.82],[673,.08],[678,0],[686,.02],[688,.16],[691,.02],[703,0],[707,.2],[709,.09],[712,.51],[715,.04],[726,0],[736,.04],[746,0],[753,.04],[758,.17],[760,.04],[764,.12],[767,0],[778,0],[782,.33],[784,.17],[786,.25],[789,.12],[793,.02],[801,0],[805,.23],[808,.08],[812,.41],[814,0],[818,.16],[821,0],[826,.74],[828,.08],[834,0],[839,.04],[843,0],[854,.06],
  [856,.02],[859,.13],[861,.02],[879,0],[896,.02],[913,0],[919,.2],[921,.12],[923,.14],[928,.02],[932,.27],[933,.12],[936,.22],[938,0],[953,.04],[956,.06],[959,0],[964,0],[968,.23],[969,.12],[972,.38],[974,.23],[976,.31],[978,.12],[981,.49],[986,.06],[990,.16],[992,.08],[994,.22],[998,.76],[1001,.04],[1009,.02],[1016,.23],[1018,.47],[1020,.74],[1022,0],[1046,.02],[1053,0],[1058,.09],[1061,0],[1064,0],[1066,.59],[1069,.16],[1071,.27],[1073,.12],[1075,.27],[1078,0],[1084,.02],[1086,.33],[1090,.61],[1092,0],[1103,0],[1105,.05],[1108,0],[1120,0],
];
const sapsMagenta: Row[] = [
  [0,0],[56,0],[59,.09],[61,.41],[63,.02],[68,.05],[70,.64],[73,.02],[81,.04],[84,.29],[87,.05],[90,.21],[93,.09],[97,.56],[99,.02],[113,.02],[116,.55],[118,.04],[128,.04],[131,.17],[134,.25],[136,.02],[173,.02],[176,.13],[179,.07],[183,.04],[188,.19],[190,.09],[194,.02],[206,.02],[210,.07],[213,.02],[223,.02],[226,.66],[228,.02],[259,.04],[263,.39],[265,.05],[270,.21],[272,.09],[275,.33],[277,.02],[281,.02],[283,.09],[287,.04],[290,.33],[292,.09],[295,.33],[297,.68],[300,.02],[306,.02],[309,.46],[311,.09],[313,.41],[315,0],[324,.05],[329,.17],[333,0],[341,.04],[345,.54],[347,.48],[349,.02],[363,.04],[367,.25],[369,.41],[371,.29],[374,0],
  [569,.02],[573,0],[626,.02],[636,.05],[639,.07],[643,.02],[649,.02],[652,.47],[654,.02],[661,.05],[664,.33],[666,.13],[667,.2],[669,.02],[674,.02],[676,.38],[678,.02],[688,.02],[691,0],[723,0],[726,.05],[729,.02],[733,.05],[739,.04],[744,.02],[748,.27],[750,.25],[752,.38],[754,.1],[758,.45],[760,.2],[762,.68],[764,.72],[765,1.03],[767,.02],[771,.04],[774,.25],[776,.02],[784,.02],[788,.15],[790,.02],[801,.02],[805,.21],[808,.09],[811,.29],[813,.31],[815,.05],[818,.29],[820,.05],[826,.04],[829,.09],[831,.02],[839,0],[843,.07],[845,0],[853,.04],
  [856,.02],[863,0],[869,.04],[873,.54],[874,0],[879,.02],[883,.09],[886,.02],[890,.05],[893,0],[913,.02],[926,.02],[931,.07],[933,.42],[935,.89],[938,.02],[953,.02],[954,.07],[957,0],[968,.02],[971,.42],[973,.2],[975,.5],[978,.07],[981,0],[988,.07],[992,.58],[994,.67],[996,.07],[999,.11],[1003,0],[1016,0],[1018,.19],[1020,.88],[1022,0],[1046,.02],[1049,0],[1084,0],[1087,.11],[1089,.36],[1091,.02],[1094,.05],[1097,0],[1103,.02],[1106,.41],[1108,.02],[1113,.05],[1118,0],[1120,0],
];
const sapsLines = [sapsNavy, sapsRed, sapsBlue, sapsGreen, sapsOrange, sapsGrey, sapsBlack, sapsTeal, sapsMagenta];

const priceTicks = [130,140,150,160,170,180,190,200,210,220,230,240,250,260,270,280,290,300,310,320,330,340,350];
// 290 sits under the countdown box in the reference, so it has no label
const priceLabels = priceTicks.filter((t) => t !== 290);
const sapsTicks = [-1,0,1,2,3,4,5,6,7,8];

const RED_BAND = { fill: "#ffa9a9", line: "#f26a6a", slow: "#e01212" };
const GREEN_BAND = { fill: "#a8d8a8", line: "#4fae4f", slow: "#14701e" };

// one polygon per phase, redrawn from the rows through the axes
function ribbon(rows: Row[], band: typeof RED_BAND) {
  return {
    type: "custom",
    xAxisIndex: 0,
    yAxisIndex: 0,
    silent: true,
    z: 5,
    data: rows,
    encode: { x: 0, y: 1 },
    renderItem: (p: any, api: any) => {
      if (p.dataIndex !== 0) return null;
      const line = (k: number) => rows.map((r) => api.coord([r[0], r[k]]));
      const area = (i: number, j: number, fill: string) => ({
        type: "polygon",
        shape: { points: [...line(i), ...line(j).reverse()] },
        style: { fill, stroke: "none" },
      });
      const edge = (k: number, stroke: string, lineWidth: number) => ({
        type: "polyline",
        shape: { points: line(k) },
        style: { fill: "none", stroke, lineWidth },
      });
      return {
        type: "group",
        children: [
          area(1, 2, band.fill),
          area(2, 3, "#ffffff"),
          area(3, 4, band.fill),
          area(4, 5, "#d9d9d9"),
          edge(1, band.line, 1),
          edge(3, band.line, 1),
          edge(4, band.line, 1),
          edge(5, band.slow, 1.5),
        ],
      };
    },
  };
}

function cloud(rows: Row[]) {
  return {
    type: "custom",
    xAxisIndex: 0,
    yAxisIndex: 0,
    silent: true,
    z: 2,
    data: rows,
    encode: { x: 0, y: 1 },
    renderItem: (p: any, api: any) => {
      if (p.dataIndex !== 0) return null;
      const top = rows.map((r) => api.coord([r[0], r[1]]));
      const bottom = rows.map((r) => api.coord([r[0], r[2]])).reverse();
      return {
        type: "polygon",
        shape: { points: [...top, ...bottom] },
        style: { fill: "#f6f6f6", stroke: "#c4c4c4", lineWidth: 1 },
      };
    },
  };
}

function pairsFromStep(values: number[], start: number): Row[] {
  return values.map((v, i) => [start + i * 4, v]);
}

function xAxis(gridIndex: number) {
  return {
    type: "value",
    gridIndex,
    min: 0,
    max: 1233,
    show: false,
    splitLine: { show: false },
  };
}

function headerText(x: number, y: number, text: string, fill = "#333", size = 10.5) {
  return { type: "text", x, y, z: 21, style: { text, fill, font: `${size}px ${FONT}` } };
}

const GREEN_TEXT = "#2fa52f";
const dottedGrid = { show: true, showMinLine: false, showMaxLine: false, lineStyle: { color: "#ededed", type: "dotted" as const, width: 1 } };
const axisText = { color: "#555", fontSize: 9, fontFamily: FONT, margin: 6 };

function buildOption() {
  return {
    animation: false,
    textStyle: { fontFamily: FONT },
    grid: [
      { left: 4, width: 1233, top: 23.27, height: 665.5 },
      { left: 4, width: 1233, top: 27, height: 659 },
      { left: 4, width: 1233, top: 686, height: 132 },
      { left: 4, width: 1233, top: 802.44, height: 468.16 },
      { left: 4, width: 1233, top: 1248, height: 1 },
    ],
    xAxis: [
      xAxis(0),
      xAxis(1),
      xAxis(2),
      xAxis(3),
      {
        type: "value",
        gridIndex: 4,
        min: 0,
        max: 1233,
        axisLine: { show: false },
        splitLine: { show: false },
        axisTick: { show: true, length: 3, lineStyle: { color: "#999" }, customValues: timeTicks.map((t) => t[0]) },
        axisLabel: {
          ...axisText,
          margin: 4,
          customValues: timeTicks.map((t) => t[0]),
          formatter: (v: number) => {
            const label = timeTicks.find((t) => t[0] === v)?.[1] ?? "";
            return label.endsWith("月") ? `{b|${label}}` : label;
          },
          rich: { b: { fontWeight: "bold", color: "#333", fontSize: 9.5, fontFamily: FONT } },
        },
      },
    ],
    yAxis: [
      {
        type: "value",
        gridIndex: 0,
        position: "right",
        min: 120,
        max: 360,
        interval: 10,
        axisLine: { show: false },
        axisTick: { show: true, length: 3, lineStyle: { color: "#999" }, customValues: priceTicks },
        axisLabel: { ...axisText, customValues: priceLabels, formatter: (v: number) => v.toFixed(2) },
        splitLine: dottedGrid,
      },
      { type: "value", gridIndex: 1, min: 0, max: 659, show: false, splitLine: { show: false } },
      {
        type: "value",
        gridIndex: 2,
        position: "right",
        min: -7,
        max: 125,
        axisLine: { show: false },
        axisTick: { show: true, length: 3, lineStyle: { color: "#999" }, customValues: [0] },
        axisLabel: { ...axisText, customValues: [0], formatter: () => "0" },
        splitLine: { show: false },
      },
      {
        type: "value",
        gridIndex: 3,
        position: "right",
        min: -2,
        max: 9,
        interval: 1,
        axisLine: { show: false },
        axisTick: { show: true, length: 3, lineStyle: { color: "#999" }, customValues: sapsTicks },
        axisLabel: { ...axisText, customValues: sapsTicks, formatter: (v: number) => v.toFixed(2) },
        splitLine: dottedGrid,
      },
      { type: "value", gridIndex: 4, min: 0, max: 1, show: false, splitLine: { show: false } },
    ],
    series: [
      ...[
        { data: volumeFaintUp, color: "#cfeae6" },
        { data: volumeFaintDown, color: "#fcd6d3" },
        { data: [...pairsFromStep(volumeUp, 0), ...volumeUpSpikes], color: "#8fd2c8" },
        { data: [...pairsFromStep(volumeDown, 2), ...volumeDownSpikes], color: "#f9aaa5" },
      ].map((v) => ({
        type: "bar",
        xAxisIndex: 1,
        yAxisIndex: 1,
        barWidth: 1.9,
        barGap: "-100%",
        silent: true,
        z: 1,
        data: v.data,
        itemStyle: { color: v.color },
      })),
      ...cloudPatches.map(cloud),
      {
        type: "line",
        xAxisIndex: 0,
        yAxisIndex: 0,
        data: blueEma,
        symbol: "none",
        silent: true,
        smooth: 0.2,
        z: 4,
        lineStyle: { color: "#2fb3e6", width: 1.8 },
        markLine: {
          silent: true,
          symbol: "none",
          label: { show: false },
          lineStyle: { color: "#ff3030", type: "dotted", width: 1 },
          data: [{ yAxis: lastPrice }],
        },
      },
      {
        type: "line",
        xAxisIndex: 0,
        yAxisIndex: 0,
        data: greenEma,
        symbol: "none",
        silent: true,
        smooth: 0.3,
        z: 4,
        lineStyle: { color: "#3fb53f", width: 1.5 },
      },
      ...[
        ribbon(bullA, GREEN_BAND), ribbon(bearA, RED_BAND), ribbon(bullB, GREEN_BAND), ribbon(bearB, RED_BAND),
        ribbon(bullC, GREEN_BAND), ribbon(bearC, RED_BAND), ribbon(bullD, GREEN_BAND), ribbon(bearD, RED_BAND),
        ribbon(bullE, GREEN_BAND), ribbon(bearE, RED_BAND), ribbon(bullF, GREEN_BAND), ribbon(bearF, RED_BAND),
        ribbon(bullG, GREEN_BAND), ribbon(bearG, RED_BAND), ribbon(bullH, GREEN_BAND),
      ],
      {
        type: "custom",
        xAxisIndex: 0,
        yAxisIndex: 0,
        silent: true,
        z: 6,
        data: [...candles, ...candlesBetween],
        encode: { x: 0, y: [1, 2] },
        renderItem: (p: any, api: any) => {
          const low = api.coord([api.value(0), api.value(1)]);
          const high = api.coord([api.value(0), api.value(2)]);
          return {
            type: "line",
            shape: { x1: low[0], y1: low[1], x2: high[0], y2: high[1] },
            style: { stroke: p.dataIndex % 3 === 0 ? "#8a8a8a" : "#2b2b2b", lineWidth: 1.1 },
          };
        },
      },
      {
        type: "bar",
        xAxisIndex: 2,
        yAxisIndex: 2,
        barWidth: 1.5,
        silent: true,
        data: apsBars,
        itemStyle: { color: "#ff5252" },
        markLine: {
          silent: true,
          symbol: "none",
          label: { show: false },
          lineStyle: { color: "#ededed", type: "dotted", width: 1 },
          data: [{ yAxis: 0 }],
        },
      },
      {
        type: "scatter",
        xAxisIndex: 2,
        yAxisIndex: 2,
        silent: true,
        symbol: "rect",
        symbolSize: 5,
        itemStyle: { color: "#0000ff" },
        data: apsSignals.map((bar) => [bar, apsMarkerLevel]),
      },
      ...sapsLines.map((rows, i) => ({
        type: "line",
        xAxisIndex: 3,
        yAxisIndex: 3,
        symbol: "none",
        silent: true,
        lineStyle: { color: sapsColors[i], width: 1.3 },
        data: rows.map((r) => [r[0], r[1] + sapsBases[i]]),
      })),
    ],
    graphic: [
      { type: "text", x: 414, y: 328, z: 0, silent: true, style: { text: "BCHABCUSDT, 60", fill: "#ececec", font: `56px Roboto, ${FONT}`, verticalAlign: "middle" } },
      { type: "text", x: 432, y: 392, z: 0, silent: true, style: { text: "Bitcoin Cash ABC / TetherUS", fill: "#ececec", font: `29px ${FONT}`, verticalAlign: "middle" } },
      { type: "rect", z: 20, silent: true, shape: { x: 4, y: 27, width: 1272, height: 1241 }, style: { fill: "none", stroke: BORDER, lineWidth: 1.5 } },
      { type: "line", z: 20, silent: true, shape: { x1: 4, y1: 686.5, x2: 1238, y2: 686.5 }, style: { stroke: BORDER, lineWidth: 1.5 } },
      { type: "line", z: 20, silent: true, shape: { x1: 4, y1: 818.5, x2: 1238, y2: 818.5 }, style: { stroke: BORDER, lineWidth: 1.5 } },
      { type: "line", z: 20, silent: true, shape: { x1: 4, y1: 1248, x2: 1276, y2: 1248 }, style: { stroke: BORDER, lineWidth: 1.5 } },
      { type: "line", z: 20, silent: true, shape: { x1: 1238, y1: 27, x2: 1238, y2: 1268 }, style: { stroke: BORDER, lineWidth: 1.5 } },
      headerText(4, 3, "nikochandaiou", "#5cbbe8", 10.4),
      headerText(77, 3, "TradingView.com で公開, 5月 03, 2019 22:17:18 JST", "#333", 10.4),
      headerText(4, 14, "BINANCE:BCHABCUSDT, 60 293.21"),
      headerText(175, 14, "▲", GREEN_TEXT),
      headerText(185, 14, "+23.94 (+8.89%) O:"),
      headerText(279, 14, "293.11", GREEN_TEXT),
      headerText(315, 14, "H:"),
      headerText(326, 14, "293.86", GREEN_TEXT),
      headerText(362, 14, "L:"),
      headerText(371, 14, "292.76", GREEN_TEXT),
      headerText(407, 14, "C:"),
      headerText(416, 14, "293.21", GREEN_TEXT),
      { type: "text", x: 9, y: 33, z: 21, style: { text: "出来高", fill: "#333", font: `10.5px ${FONT}` } },
      { type: "text", x: 9, y: 44, z: 21, style: { text: "GMMA", fill: "#333", font: `10.5px ${FONT}` } },
      { type: "text", x: 9, y: 694, z: 21, style: { text: "APS Ver.7.2", fill: "#333", font: `10.5px ${FONT}` } },
      { type: "text", x: 9, y: 825, z: 21, style: { text: "S-APS Ver.1.6", fill: "#333", font: `10.5px ${FONT}` } },
      { type: "rect", z: 22, shape: { x: 1238, y: 202, width: 37, height: 12 }, style: { fill: "#ff0a0a" } },
      { type: "text", x: 1243, y: 202, z: 23, style: { text: "293.21", fill: "#fff", font: `bold 9.5px ${FONT}` } },
      { type: "rect", z: 22, shape: { x: 1246, y: 217, width: 29, height: 12 }, style: { fill: "#ff0a0a" } },
      { type: "text", x: 1249, y: 217, z: 23, style: { text: "42:43", fill: "#fff", font: `bold 9.5px ${FONT}` } },
      { type: "text", x: 4, y: 1274, z: 21, style: { text: "作成ツール:", fill: "#333", font: `9.5px ${FONT}` } },
      { type: "tvCloud", x: 58, y: 1273, z: 21, style: { fill: "#5cbbe8" } },
      { type: "text", x: 74, y: 1274, z: 21, style: { text: "TradingView", fill: "#5cbbe8", font: `10.5px ${FONT}` } },
    ],
  };
}

export default function App() {
  const chartRef = useRef<HTMLDivElement>(null);

  useEffect(() => {
    if (!chartRef.current) return;
    document.body.style.margin = "0";
    const chart = echarts.init(chartRef.current, undefined, { renderer: "svg" });
    chart.setOption(buildOption() as any);
    return () => chart.dispose();
  }, []);

  return <div ref={chartRef} style={{ width: 1280, height: 1291, background: "#fff" }} />;
}
